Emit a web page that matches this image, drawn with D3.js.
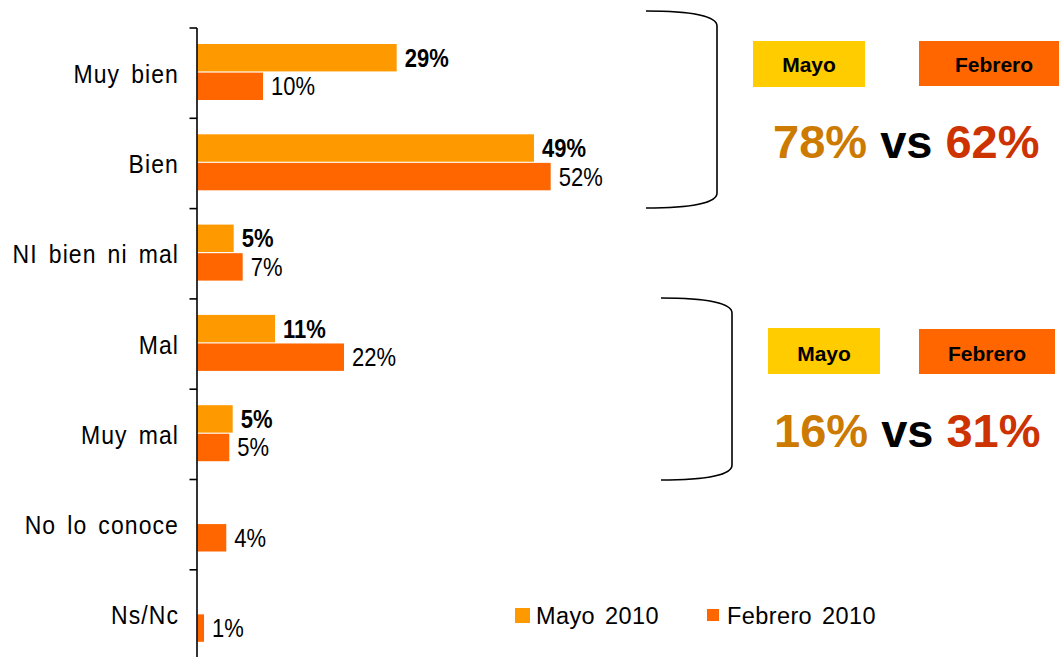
<!DOCTYPE html>
<html>
<head>
<meta charset="utf-8">
<script src="https://cdn.jsdelivr.net/npm/d3@7"></script>
<style>
  html, body { margin: 0; padding: 0; background: #fff; }
  svg { display: block; font-family: "Liberation Sans", Arial, sans-serif; }
</style>
</head>
<body>
<svg id="chart" width="1059" height="657"></svg>
<script>
// ---- data ----
const categories = ["Muy bien", "Bien", "NI bien ni mal", "Mal", "Muy mal", "No lo conoce", "Ns/Nc"];
const seriesNames = ["Mayo 2010", "Febrero 2010"];
const mayo2010 = [29.27, 49.45, 5.32, 11.39, 5.17, null, null];
const febrero2010 = [9.63, 51.9, 6.64, 21.53, 4.67, 4.23, 0.96];
const seriesColors = ["#FF9900", "#FF6600"];

const boxLabels = ["Mayo", "Febrero"];
const positiveSummary = ["78%", "62%"];   // Muy bien + Bien
const negativeSummary = ["16%", "31%"];   // Mal + Muy mal

// ---- layout ----
const svg = d3.select("#chart");
svg.append("rect").attr("width", 1059).attr("height", 657).attr("fill", "#fff");

const x0 = 197.5;
const x = d3.scaleLinear().domain([0, 100]).range([x0, x0 + 680.5]);
const y = d3.scaleBand().domain(categories).range([28, 28 + 7 * 90.3]).padding(0);
const sub = d3.scaleBand().domain(seriesNames).range([16, 72]).paddingInner(0.04);

const series = seriesNames.map((name, i) => ({
  name, color: seriesColors[i],
  values: categories.map((c, j) => ({ cat: c, v: (i === 0 ? mayo2010 : febrero2010)[j] }))
}));

// bars
const g = svg.append("g");
series.forEach((s, si) => {
  const valid = s.values.filter(d => d.v != null);
  g.selectAll(null).data(valid).enter().append("rect")
    .attr("x", x(0))
    .attr("y", d => y(d.cat) + sub(s.name))
    .attr("width", d => x(d.v) - x(0))
    .attr("height", sub.bandwidth())
    .attr("fill", s.color);

  g.selectAll(null).data(valid).enter().append("text")
    .attr("transform", d => `translate(${x(d.v) + 8},${y(d.cat) + sub(s.name) + sub.bandwidth() / 2 + 9}) scale(1,1.15)`)
    .attr("font-size", 22)
    .attr("font-weight", si === 0 ? "bold" : "normal")
    .attr("fill", "#000")
    .text(d => Math.round(d.v) + "%");
});

// axis
const axis = svg.append("g");
axis.append("line")
  .attr("x1", x0 - 0.5).attr("x2", x0 - 0.5)
  .attr("y1", y(categories[0])).attr("y2", 657)
  .attr("stroke", "#000").attr("stroke-width", 1.6);
axis.selectAll(null).data(categories).enter().append("line")
  .attr("x1", x0 - 8).attr("x2", x0 - 0.5)
  .attr("y1", d => y(d)).attr("y2", d => y(d))
  .attr("stroke", "#000").attr("stroke-width", 1.6);
axis.selectAll(null).data(categories).enter().append("text")
  .attr("transform", d => `translate(179,${y(d) + y.bandwidth() / 2 + 9.5}) scale(1,1.15)`)
  .attr("text-anchor", "end")
  .attr("font-size", 23)
  .attr("letter-spacing", 1.1)
  .attr("word-spacing", 3.5)
  .attr("fill", "#000")
  .text(d => d);

// legend
const legend = svg.append("g");
const legendItems = [
  { name: seriesNames[0], color: seriesColors[0], sx: 515, sy: 608, s: 15, tx: 536 },
  { name: seriesNames[1], color: seriesColors[1], sx: 707, sy: 609, s: 12, tx: 727 }
];
legendItems.forEach(l => {
  legend.append("rect").attr("x", l.sx).attr("y", l.sy).attr("width", l.s).attr("height", l.s).attr("fill", l.color);
  legend.append("text").attr("x", l.tx).attr("y", 624).attr("font-size", 23.5)
    .attr("letter-spacing", 0.4).attr("word-spacing", 3).attr("fill", "#000").text(l.name);
});

// brackets
const bracket = (x1, x2, yt, yb) =>
  `M${x1},${yt} C${x1 + 45},${yt} ${x2},${yt + 5} ${x2},${yt + 15} L${x2},${yb - 15} C${x2},${yb - 5} ${x1 + 45},${yb} ${x1},${yb}`;
svg.append("path").attr("d", bracket(646, 717, 11, 208)).attr("fill", "none").attr("stroke", "#000").attr("stroke-width", 1.6);
svg.append("path").attr("d", bracket(661, 732, 298, 480)).attr("fill", "none").attr("stroke", "#000").attr("stroke-width", 1.6);

// summary boxes
function summary(boxes, baseY, textX, textY, vals) {
  const grp = svg.append("g");
  boxes.forEach((b, i) => {
    grp.append("rect").attr("x", b.x).attr("y", b.y).attr("width", b.w).attr("height", b.h).attr("fill", b.fill);
    grp.append("text").attr("x", b.x + b.w / 2).attr("y", baseY)
      .attr("text-anchor", "middle").attr("font-size", 21).attr("font-weight", "bold").attr("fill", "#000")
      .text(boxLabels[i]);
  });
  const t = grp.append("text").attr("x", textX).attr("y", textY)
    .attr("font-size", 47).attr("font-weight", "bold");
  t.append("tspan").attr("fill", "#CC7A00").text(vals[0]);
  t.append("tspan").attr("fill", "#000").text(" vs ");
  t.append("tspan").attr("fill", "#CC3300").text(vals[1]);
}
summary([
  { x: 753, y: 41, w: 112, h: 46, fill: "#FFCC00" },
  { x: 919, y: 41, w: 150, h: 45, fill: "#FF6600" }
], 72, 773, 158, positiveSummary);
summary([
  { x: 768, y: 328, w: 112, h: 46, fill: "#FFCC00" },
  { x: 919, y: 329, w: 136, h: 45, fill: "#FF6600" }
], 361, 774, 447, negativeSummary);
</script>
</body>
</html>
